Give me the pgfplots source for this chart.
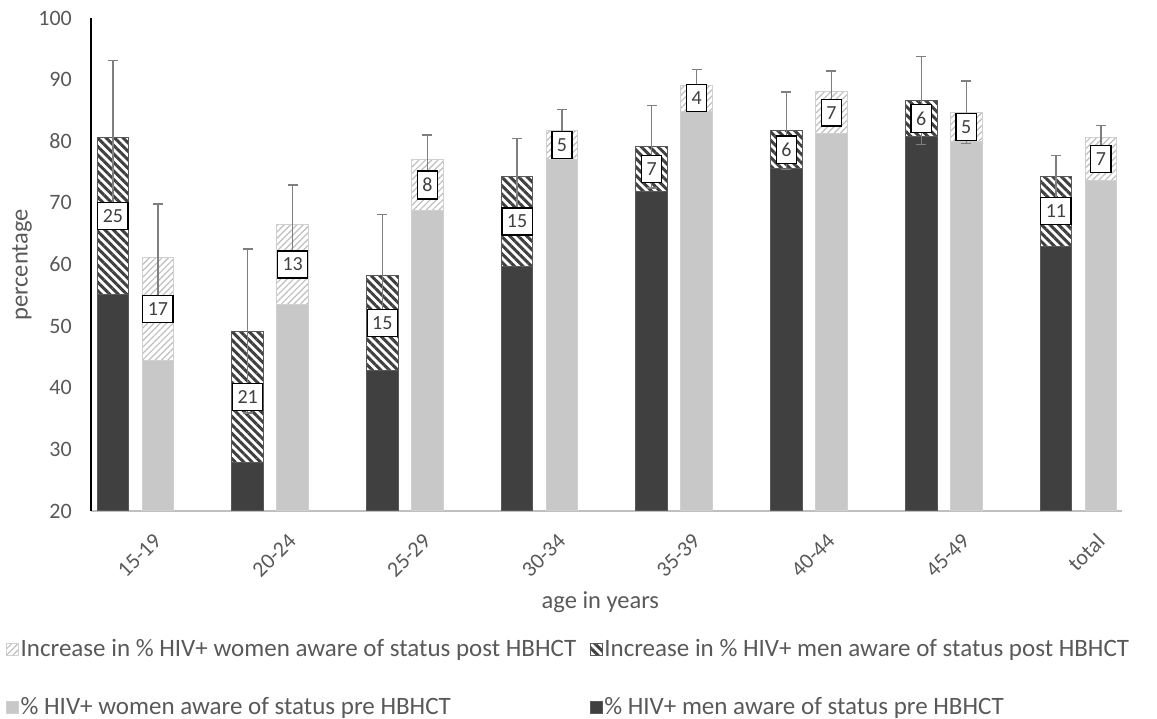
\documentclass[border=0pt]{standalone}
\usepackage{fontspec}
\setmainfont{Carlito}
\usepackage{pgfplots}
\pgfplotsset{compat=1.18}
\usetikzlibrary{patterns.meta}
\definecolor{mdark}{HTML}{404040}
\definecolor{medge}{HTML}{595959}
\definecolor{wlight}{HTML}{C8C8C8}
\definecolor{wedge}{HTML}{D0D0D0}
\definecolor{txt}{HTML}{595959}
\definecolor{errc}{HTML}{7F7F7F}
\definecolor{axgray}{HTML}{BFBFBF}
\pgfplotsset{
  sqlegend/.style={legend image code/.code={\draw[##1] (0pt,-6pt) rectangle (12pt,6pt);}},
  menhatch/.style={draw=medge, line width=1pt, pattern={Lines[angle=-45,distance=6pt,line width=3pt]}, pattern color=mdark},
  womenhatch/.style={draw=wedge, line width=1pt, pattern={Lines[angle=45,distance=4.5pt,line width=1.2pt]}, pattern color=axgray},
  menpre/.style={draw=medge, line width=1pt, fill=mdark},
  womenpre/.style={draw=wedge, line width=1pt, fill=wlight},
}
\begin{document}
\fontsize{20pt}{24pt}\selectfont
\begin{tikzpicture}
\useasboundingbox (0pt,0pt) rectangle (1157pt,719pt);
\begin{axis}[
  at={(91pt,208pt)}, anchor=south west,
  scale only axis, width=1031pt, height=493pt,
  ybar, bar width=0.235,
  enlargelimits=false,
  xmin=-0.330, xmax=7.324, ymin=20, ymax=100,
  ytick={20,30,...,100},
  xtick={0,...,7},
  xticklabels={15-19,20-24,25-29,30-34,35-39,40-44,45-49,total},
  major tick length=0pt,
  axis x line*=bottom, axis y line*=left,
  x axis line style={axgray, line width=2pt, -},
  y axis line style={black, line width=1.3pt, -},
  tick label style={text=txt},
  /pgf/number format/assume math mode=true,
  yticklabel style={anchor=east, inner sep=0pt, xshift=-19pt, font=\fontsize{22pt}{26pt}\selectfont},
  xticklabel style={xshift=17pt, yshift=-21pt, rotate=45, anchor=north east, inner sep=0pt, font=\fontsize{22pt}{26pt}\selectfont},
  xlabel={age in years}, ylabel={percentage},
  label style={font=\fontsize{24.5pt}{28pt}\selectfont, text=txt},
  xlabel style={at={(axis description cs:0.494,-0.1846)}, anchor=center},
  ylabel style={at={(axis description cs:-0.0669,0.499)}, anchor=center},
  legend columns=2,
  legend cell align=left,
  legend style={at={(axis description cs:-0.0854,-0.252)}, anchor=north west, draw=none, fill=none,
     font=\fontsize{25pt}{30pt}\selectfont, text=txt, row sep=35pt,
     /tikz/every even column/.append style={column sep=12pt},
     nodes={inner sep=1.5pt}},
]
% hatched totals (post HBHCT)
\addplot[forget plot, bar shift=0pt, menhatch] coordinates {
(-0.167,80.6) (0.833,49.2) (1.833,58.2) (2.833,74.3) (3.833,79.1) (4.833,81.7) (5.833,86.6) (6.833,74.3)};
\addplot[forget plot, bar shift=0pt, womenhatch] coordinates {
(0.167,61.1) (1.167,66.5) (2.167,77.1) (3.167,81.7) (4.167,89.1) (5.167,88.0) (6.167,84.7) (7.167,80.6)};
% pre HBHCT
\addplot[forget plot, bar shift=0pt, menpre] coordinates {
(-0.167,55.2) (0.833,27.9) (1.833,42.8) (2.833,59.7) (3.833,71.9) (4.833,75.5) (5.833,80.8) (6.833,63.0)};
\addplot[forget plot, bar shift=0pt, womenpre] coordinates {
(0.167,44.5) (1.167,53.5) (2.167,68.7) (3.167,77.1) (4.167,84.9) (5.167,81.3) (6.167,80.0) (7.167,73.6)};
% error bars
\addplot[forget plot, bar shift=0pt, only marks, mark=*, mark size=0pt, mark options={draw=none, fill=none},
  error bars/.cd, y dir=both, y explicit,
  error bar style={errc, line width=1.3pt},
  error mark options={errc, line width=1.3pt, mark size=5pt, rotate=90}]
coordinates {
(-0.167,80.6) +- (0,12.5) (0.833,49.2) +- (0,13.3) (1.833,58.2) +- (0,9.9) (2.833,74.3) +- (0,6.2)
(3.833,79.1) +- (0,6.7) (4.833,81.7) +- (0,6.3) (5.833,86.6) +- (0,7.1) (6.833,74.3) +- (0,3.4)
(0.167,61.1) +- (0,8.7) (1.167,66.5) +- (0,6.4) (2.167,77.1) +- (0,3.9) (3.167,81.7) +- (0,3.5)
(4.167,89.1) +- (0,2.5) (5.167,88.0) +- (0,3.4) (6.167,84.7) +- (0,5.1) (7.167,80.6) +- (0,2.0)};
% increase labels
\addplot[forget plot, bar shift=0pt, only marks, mark=*, mark size=0pt, mark options={draw=none, fill=none},
  nodes near coords, point meta=explicit symbolic,
  every node near coord/.append style={anchor=center, draw=black, fill=white, line width=1.3pt,
     inner xsep=5pt, inner ysep=7pt, text=mdark, font=\fontsize{20pt}{24pt}\selectfont}]
coordinates {
(-0.167,67.9) [25] (0.833,38.55) [21] (1.833,50.5) [15] (2.833,67.0) [15]
(3.833,75.5) [7] (4.833,78.6) [6] (5.833,83.7) [6] (6.833,68.65) [11]
(0.167,52.8) [17] (1.167,60.0) [13] (2.167,72.9) [8] (3.167,79.4) [5]
(4.167,87.0) [4] (5.167,84.65) [7] (6.167,82.35) [5] (7.167,77.1) [7]};
% legend
\addlegendimage{sqlegend, womenhatch}
\addlegendentry{Increase in \% HIV+ women aware of status post HBHCT}
\addlegendimage{sqlegend, menhatch}
\addlegendentry{Increase in \% HIV+ men aware of status post HBHCT}
\addlegendimage{sqlegend, womenpre}
\addlegendentry{\% HIV+ women aware of status pre HBHCT}
\addlegendimage{sqlegend, menpre}
\addlegendentry{\% HIV+ men aware of status pre HBHCT}
\end{axis}
\end{tikzpicture}
\end{document}
